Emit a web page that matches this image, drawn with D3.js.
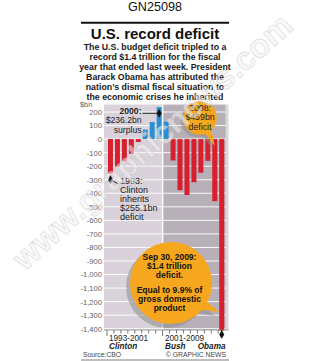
<!DOCTYPE html>
<html>
<head>
<meta charset="utf-8">
<script src="https://cdn.jsdelivr.net/npm/d3@7"></script>
<style>
  body { margin: 0; background: #fff; }
  text { font-family: "Liberation Sans", Arial, sans-serif; }
  .narrow { font-family: "Liberation Sans Narrow", "Arial Narrow", sans-serif; }
</style>
</head>
<body>
<div id="chart"></div>
<script>
// data: US federal budget balance, $bn (fiscal years)
const years = [1993, 1994, 1995, 1996, 1997, 1998, 1999, 2000, 2001,
               2002, 2003, 2004, 2005, 2006, 2007, 2008, 2009];
const balance = [-255.1, -203.2, -164.0, -107.4, -21.9, 69.3, 125.6, 236.2, 128.2,
                 -157.8, -377.6, -412.7, -318.3, -248.2, -160.7, -458.6, -1414];
const yTicks = [200, 100, 0, -100, -200, -300, -400, -500, -600, -700,
                -800, -900, -1000, -1100, -1200, -1300, -1400];
const introLines = ["The U.S. budget deficit tripled to a",
                    "record $1.4 trillion for the fiscal",
                    "year that ended last week. President",
                    "Barack Obama has attributed the",
                    "nation\u2019s dismal fiscal situation to",
                    "the economic crises he inherited"];

const W = 310, H = 361;
const svg = d3.select("#chart").append("svg")
    .attr("width", W).attr("height", H);

// ---- header ----
svg.append("text").attr("x", 155).attr("y", 11).attr("text-anchor", "middle")
    .style("font-size", "12.6px").attr("fill", "#111").text("GN25098");
svg.append("line").attr("x1", 81).attr("x2", 229).attr("y1", 22.8).attr("y2", 22.8)
    .attr("stroke", "#111").attr("stroke-width", 2);
svg.append("text").attr("class", "narrow").attr("x", 155).attr("y", 38.5)
    .attr("text-anchor", "middle").style("font-size", "15px").style("font-weight", "bold")
    .attr("fill", "#111").text("U.S. record deficit");
svg.append("g").selectAll(".intro").data(introLines).join("text")
    .attr("class", "narrow intro")
    .attr("x", 155).attr("y", (d, i) => 50.3 + i * 9.85)
    .attr("text-anchor", "middle").style("font-size", "8.8px").style("font-weight", "bold")
    .attr("fill", "#1a1a1a").text(d => d);

// ---- scales ----
const x = d3.scaleBand().domain(years).range([107, 225.2]).paddingInner(0.28).paddingOuter(0.14);
const y = d3.scaleLinear().domain([200, -1400]).range([112, 328.7]);
const xDiv = x(2001) - x.step() * x.paddingInner() / 2;
const plotTop = y(255), plotBot = 330;

// backgrounds
svg.append("rect").attr("x", 104).attr("y", plotTop).attr("width", xDiv - 104)
    .attr("height", plotBot - plotTop).attr("fill", "#d9d2da");
svg.append("rect").attr("x", xDiv).attr("y", plotTop).attr("width", 225.8 - xDiv)
    .attr("height", plotBot - plotTop).attr("fill", "#b8b0b8");
svg.append("rect").attr("x", 225.8).attr("y", plotTop).attr("width", 2.8)
    .attr("height", plotBot - plotTop).attr("fill", "#dcd8dc");

// gridlines
svg.append("g").selectAll("line").data(yTicks).join("line")
    .attr("x1", 104).attr("x2", 225.8)
    .attr("y1", d => y(d)).attr("y2", d => y(d))
    .attr("stroke", "#fff").attr("stroke-width", 0.9);
svg.append("line").attr("x1", xDiv).attr("x2", xDiv).attr("y1", plotTop).attr("y2", plotBot + 6)
    .attr("stroke", "#fff").attr("stroke-width", 1.4);

// y axis
const yAxis = svg.append("g").attr("transform", "translate(102,0)")
    .call(d3.axisLeft(y).tickValues(yTicks).tickSize(0).tickPadding(0)
      .tickFormat(d => (d < 0 ? "-" : "") + d3.format(",")(Math.abs(d))));
yAxis.select(".domain").remove();
yAxis.selectAll("text").attr("class", "narrow").style("font-size", "7.6px").attr("fill", "#5f5f5f");
svg.append("text").attr("class", "narrow").attr("x", 80).attr("y", 106.8)
    .style("font-size", "7.4px").attr("fill", "#5f5f5f").text("$bn");

// bars
svg.append("g").selectAll("rect").data(years).join("rect")
    .attr("x", d => x(d))
    .attr("width", x.bandwidth())
    .attr("y", (d, i) => y(Math.max(0, balance[i])))
    .attr("height", (d, i) => Math.abs(y(balance[i]) - y(0)))
    .attr("fill", (d, i) => balance[i] >= 0 ? "#2b8fd2" : "#d71f2e");

// bottom axis
svg.append("line").attr("x1", 104).attr("x2", 228.6).attr("y1", plotBot).attr("y2", plotBot)
    .attr("stroke", "#8a8a8a").attr("stroke-width", 0.8);
const edges = years.map(d => x(d) - x.step() * x.paddingInner() / 2);
svg.append("g").selectAll("line").data(edges).join("line")
    .attr("x1", d => d).attr("x2", d => d)
    .attr("y1", plotBot).attr("y2", (d, i) => (i === 0 || i === 8) ? plotBot + 6 : plotBot + 3.5)
    .attr("stroke", "#555").attr("stroke-width", 0.8);

const lab = svg.append("g").attr("fill", "#222");
lab.append("text").attr("x", 109).attr("y", 340.5).style("font-size", "8.2px").text("1993-2001");
lab.append("text").attr("x", 165).attr("y", 340.5).style("font-size", "8.2px").text("2001-2009");
lab.append("text").attr("x", 109).attr("y", 348.8).style("font-size", "8.2px")
    .style("font-weight", "bold").style("font-style", "italic").text("Clinton");
lab.append("text").attr("x", 165).attr("y", 348.8).style("font-size", "8.2px")
    .style("font-weight", "bold").style("font-style", "italic").text("Bush");
lab.append("text").attr("x", 225.5).attr("y", 348.8).attr("text-anchor", "end").style("font-size", "8.2px")
    .style("font-weight", "bold").style("font-style", "italic").text("Obama");

// source line
svg.append("text").attr("x", 83).attr("y", 357).style("font-size", "6.8px").attr("fill", "#444").text("Source:CBO");
svg.append("text").attr("x", 226).attr("y", 357).attr("text-anchor", "end")
    .style("font-size", "6.8px").attr("fill", "#444").text("\u00a9 GRAPHIC NEWS");
svg.append("line").attr("x1", 81).attr("x2", 229).attr("y1", 360).attr("y2", 360)
    .attr("stroke", "#a8a8a8").attr("stroke-width", 1.5);

// ---- annotations ----
const diamond = d3.symbol().type(d3.symbolDiamond).size(22);
const cx2000 = x(2000) + x.bandwidth() / 2;
svg.append("line").attr("x1", 142.5).attr("x2", cx2000).attr("y1", 113.3).attr("y2", 113.3)
    .attr("stroke", "#111").attr("stroke-width", 0.9);
svg.append("path").attr("d", diamond).attr("transform", `translate(${cx2000},113.3)`).attr("fill", "#111");
const a2000 = svg.append("g").attr("text-anchor", "end").attr("fill", "#222").style("font-size", "8.6px");
a2000.append("text").attr("x", 141.5).attr("y", 113.5).style("font-weight", "bold").text("2000:");
a2000.append("text").attr("x", 141.5).attr("y", 123.3).text("$236.2bn");
a2000.append("text").attr("x", 141.5).attr("y", 133).text("surplus");

const cx1993 = x(1993) + x.bandwidth() / 2;
svg.append("line").attr("x1", cx1993).attr("x2", 118).attr("y1", y(-300)).attr("y2", y(-330))
    .attr("stroke", "#111").attr("stroke-width", 0.9);
svg.append("path").attr("d", diamond).attr("transform", `translate(${cx1993},${y(-300)})`).attr("fill", "#111");
svg.append("g").attr("fill", "#222").selectAll("text")
    .data(["1993:", "Clinton", "inherits", "$255.1bn", "deficit"]).join("text")
    .attr("class", "narrow").style("font-size", "9px")
    .attr("x", 120).attr("y", (d, i) => 184 + i * 8.9).text(d => d);

const cx2009 = x(2009) + x.bandwidth() / 2;
svg.append("line").attr("x1", cx2009).attr("x2", cx2009).attr("y1", plotBot).attr("y2", 337)
    .attr("stroke", "#111").attr("stroke-width", 0.9);
svg.append("path").attr("d", diamond).attr("transform", `translate(${cx2009},334.5)`).attr("fill", "#111");

// bubbles
const orange = "#f6a71e";
function bubble(cx, cy, r, tail, shadow) {
  const g = svg.append("g");
  const pts = tail.map(p => p.join(",")).join(" ");
  g.append("circle").attr("cx", cx + shadow[0]).attr("cy", cy + shadow[1]).attr("r", r)
      .attr("fill", "#8c8c8c").attr("opacity", 0.55);
  g.append("polygon").attr("points", tail.map(p => [p[0] + shadow[0], p[1] + shadow[1]].join(",")).join(" "))
      .attr("fill", "#8c8c8c").attr("opacity", 0.55);
  g.append("circle").attr("cx", cx).attr("cy", cy).attr("r", r).attr("fill", orange);
  g.append("polygon").attr("points", pts).attr("fill", orange);
  return g;
}
const b08 = bubble(200, 118, 16.8, [[203, 131], [211, 128], [x(2008) + x.bandwidth() / 2, 146]], [-2.5, 2.5]);
b08.append("g").attr("text-anchor", "middle").attr("fill", "#222").style("font-size", "8.8px")
  .selectAll("text").data(["2008:", "$459bn", "deficit"]).join("text")
    .attr("x", 200).attr("y", (d, i) => 110.5 + i * 9.6).text(d => d);

const b09 = bubble(171, 283, 41, [[200, 296], [196, 309], [cx2009 - 2.5, 312]], [-4, 4]);
b09.append("g").attr("text-anchor", "middle").attr("fill", "#111").style("font-size", "8.5px")
  .style("font-weight", "bold")
  .selectAll("text").data(["Sep 30, 2009:", "$1.4 trillion", "deficit.", "Equal to 9.9% of", "gross domestic", "product"])
  .join("text")
    .attr("x", 169.5).attr("y", (d, i) => [259.8, 269, 277.5, 293, 302.2, 311.2][i]).text(d => d);

// watermark
svg.append("text").attr("transform", "translate(160,150) rotate(-42)")
    .attr("text-anchor", "middle").style("font-size", "33px").style("font-weight", "bold")
    .attr("fill", "#f2f2f2").attr("fill-opacity", 0.55)
    .attr("stroke", "#b5b5b5").attr("stroke-opacity", 0.45).attr("stroke-width", 0.7)
    .text("www.graphicnews.com");
</script>
</body>
</html>
